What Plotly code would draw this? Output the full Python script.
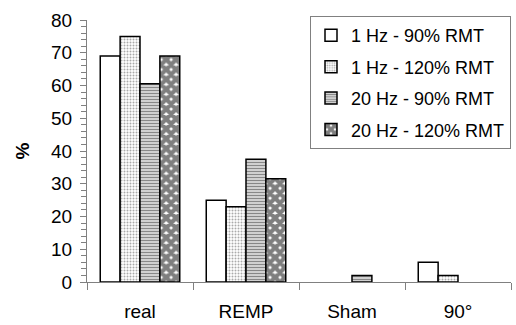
import plotly.graph_objects as go

categories = ["real", "REMP", "Sham", "90°"]
series_names = ["1 Hz - 90% RMT", "1 Hz - 120% RMT", "20 Hz - 90% RMT", "20 Hz - 120% RMT"]
s1 = [69, 25, 0, 6]
s2 = [75, 23, 0, 2]
s3 = [60.5, 37.5, 2, 0]
s4 = [69, 31.5, 0, 0]
y_ticks = [0, 10, 20, 30, 40, 50, 60, 70, 80]

FONT = "Liberation Sans, Arial, sans-serif"

patterns = [
    dict(shape="", bgcolor="white"),
    dict(shape=".", fgcolor="#555555", bgcolor="white", size=3, solidity=0.35, fillmode="overlay"),
    dict(shape="-", fgcolor="#111111", bgcolor="white", size=3, solidity=0.6, fillmode="overlay"),
    dict(shape="x", fgcolor="black", bgcolor="white", size=7, solidity=0.85, fillmode="overlay"),
]

fig = go.Figure()
for i, (name, vals) in enumerate(zip(series_names, [s1, s2, s3, s4])):
    fig.add_trace(go.Bar(
        x=categories, y=[v if v else None for v in vals], name=name,
        marker=dict(color="white", line=dict(color="black", width=1.5), pattern=patterns[i]),
        legendgroup=str(i),
    ))

fig.update_layout(
    width=516, height=325,
    margin=dict(l=87, r=5, t=20, b=43),
    paper_bgcolor="white", plot_bgcolor="white",
    barmode="group", bargap=0.25, bargroupgap=0,
    font=dict(family=FONT, size=18, color="black"),
    showlegend=True,
    legend=dict(
        x=1.0, y=1.015, xanchor="right", yanchor="top",
        bordercolor="#808080", borderwidth=1, bgcolor="white",
        font=dict(family=FONT, size=18),
        tracegroupgap=5, itemwidth=30,
    ),
    xaxis=dict(
        showline=True, linecolor="#808080", linewidth=1,
        ticks="outside", tickson="boundaries", ticklen=7, tickcolor="#808080",
        tickfont=dict(size=19), showgrid=False, ticklabelstandoff=12, automargin=False,
    ),
    yaxis=dict(
        range=[0, 80], tickvals=y_ticks, ticks="outside", ticklen=6, tickcolor="#808080",
        showline=True, linecolor="#808080", linewidth=1, showgrid=False, zeroline=False,
        tickfont=dict(size=19), ticklabelstandoff=4, automargin=False,
        minor=dict(ticks="outside", dtick=2, ticklen=5, tickcolor="#808080", showgrid=False),
        title=dict(text="<b>%</b>", font=dict(size=19), standoff=16),
    ),
)

fig.write_html("out.html")
